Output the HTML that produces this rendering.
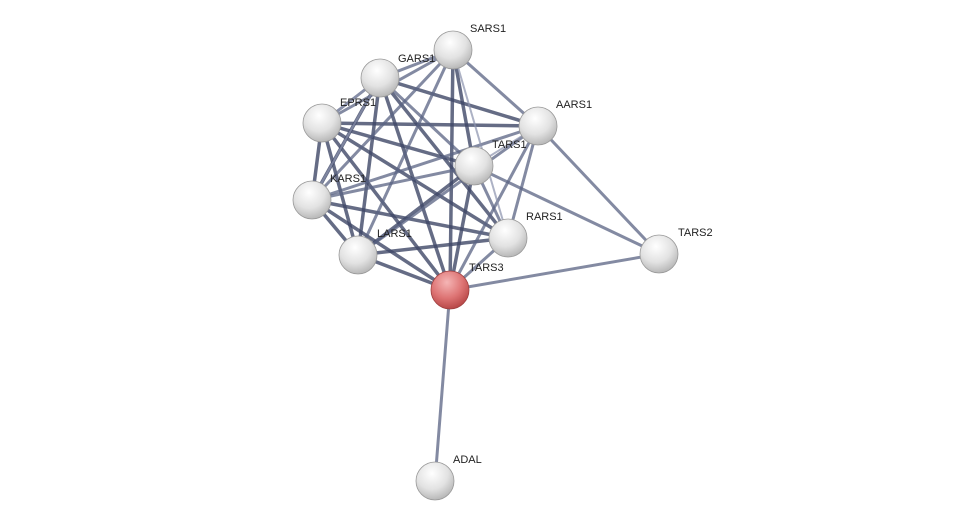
<!DOCTYPE html>
<html><head><meta charset="utf-8"><style>
html,body{margin:0;padding:0;background:#fff;width:976px;height:526px;overflow:hidden}
svg text{font-family:"Liberation Sans",sans-serif;font-size:11px;fill:#222}
</style></head><body>
<svg width="976" height="526" viewBox="0 0 976 526" xmlns="http://www.w3.org/2000/svg">
<defs>
<radialGradient id="g" cx="0.42" cy="0.3" r="0.7">
<stop offset="0" stop-color="#ffffff"/><stop offset="0.6" stop-color="#e2e2e2"/><stop offset="1" stop-color="#b8b8b8"/></radialGradient>
<radialGradient id="r" cx="0.42" cy="0.3" r="0.7">
<stop offset="0" stop-color="#f5b5b5"/><stop offset="0.6" stop-color="#dd7373"/><stop offset="1" stop-color="#b84848"/></radialGradient>
</defs>
<g stroke-linecap="round">
<!-- thick dark edges -->
<g stroke="#3e4766" stroke-opacity="0.8" stroke-width="3.5">
<line x1="380" y1="78" x2="538" y2="126"/><line x1="322" y1="123" x2="312" y2="200"/>
<line x1="322" y1="123" x2="358" y2="255"/><line x1="322" y1="123" x2="508" y2="238"/>
<line x1="322" y1="123" x2="450" y2="290"/><line x1="322" y1="123" x2="538" y2="126"/>
<line x1="312" y1="200" x2="358" y2="255"/><line x1="312" y1="200" x2="508" y2="238"/>
<line x1="312" y1="200" x2="450" y2="290"/><line x1="312" y1="200" x2="380" y2="78"/>
<line x1="358" y1="255" x2="508" y2="238"/><line x1="358" y1="255" x2="474" y2="166"/>
<line x1="453" y1="50" x2="450" y2="290"/><line x1="453" y1="50" x2="474" y2="166"/>
<line x1="380" y1="78" x2="450" y2="290"/><line x1="380" y1="78" x2="508" y2="238"/>
<line x1="474" y1="166" x2="450" y2="290"/><line x1="322" y1="123" x2="474" y2="166"/>
<line x1="380" y1="78" x2="358" y2="255"/><line x1="358" y1="255" x2="450" y2="290"/>
</g>
<g stroke="#5a6383" stroke-opacity="0.75" stroke-width="3">
<line x1="453" y1="50" x2="380" y2="78"/><line x1="453" y1="50" x2="322" y2="123"/>
<line x1="453" y1="50" x2="538" y2="126"/><line x1="453" y1="50" x2="312" y2="200"/>
<line x1="453" y1="50" x2="358" y2="255"/><line x1="380" y1="78" x2="322" y2="123"/>
<line x1="380" y1="78" x2="474" y2="166"/><line x1="312" y1="200" x2="474" y2="166"/>
<line x1="312" y1="200" x2="538" y2="126"/><line x1="538" y1="126" x2="450" y2="290"/>
<line x1="538" y1="126" x2="508" y2="238"/><line x1="538" y1="126" x2="358" y2="255"/>
<line x1="474" y1="166" x2="508" y2="238"/><line x1="508" y1="238" x2="450" y2="290"/>
<line x1="538" y1="126" x2="659" y2="254"/><line x1="474" y1="166" x2="659" y2="254"/>
<line x1="450" y1="290" x2="659" y2="254"/><line x1="450" y1="290" x2="435" y2="481"/>
</g>
<g stroke="#8a92ad" stroke-opacity="0.7" stroke-width="2">
<line x1="453" y1="50" x2="508" y2="238"/><line x1="380" y1="78" x2="312" y2="200"/>
<line x1="538" y1="126" x2="474" y2="166"/><line x1="322" y1="123" x2="380" y2="78"/>
</g>
</g>
<g stroke="#999" stroke-width="0.8">
<circle cx="453" cy="50" r="19" fill="url(#g)"/>
<circle cx="380" cy="78" r="19" fill="url(#g)"/>
<circle cx="322" cy="123" r="19" fill="url(#g)"/>
<circle cx="538" cy="126" r="19" fill="url(#g)"/>
<circle cx="474" cy="166" r="19" fill="url(#g)"/>
<circle cx="312" cy="200" r="19" fill="url(#g)"/>
<circle cx="508" cy="238" r="19" fill="url(#g)"/>
<circle cx="358" cy="255" r="19" fill="url(#g)"/>
<circle cx="659" cy="254" r="19" fill="url(#g)"/>
<circle cx="435" cy="481" r="19" fill="url(#g)"/>
<circle cx="450" cy="290" r="19" fill="url(#r)" stroke="#a04040"/>
</g>
<text x="470" y="32">SARS1</text><text x="398" y="62">GARS1</text>
<text x="340" y="106">EPRS1</text><text x="556" y="108">AARS1</text>
<text x="492" y="148">TARS1</text><text x="330" y="182">KARS1</text>
<text x="526" y="220">RARS1</text><text x="377" y="237">LARS1</text>
<text x="469" y="271">TARS3</text><text x="678" y="236">TARS2</text>
<text x="453" y="463">ADAL</text>
</svg>
</body></html>
